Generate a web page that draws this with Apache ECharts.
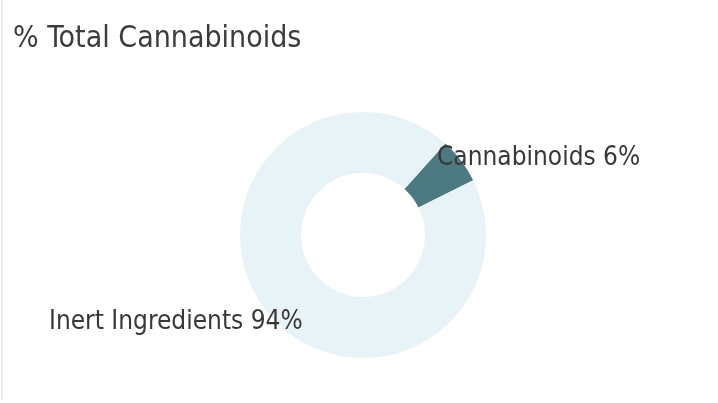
<!DOCTYPE html>
<html><head><meta charset="utf-8">
<script src="https://cdn.jsdelivr.net/npm/echarts@6/dist/echarts.min.js"></script>
<style>html,body{margin:0;padding:0;background:#fff}#c{width:718px;height:403px}</style>
</head><body><div id="c"></div>
<script>
var titleText = '% Total Cannabinoids';
var categories = ['Cannabinoids', 'Inert Ingredients'];
var values = [6, 94];
var colors = ['#4d7a80', '#e7f3f6'];

var chart = echarts.init(document.getElementById('c'), null, {renderer: 'canvas'});
chart.setOption({
  animation: false,
  backgroundColor: '#ffffff',
  title: {
    text: titleText, left: 8, top: 19,
    textStyle: {fontFamily: 'DejaVu Sans Condensed', fontSize: 30, fontWeight: 'normal', color: '#3c3c3c'}
  },
  graphic: [{type: 'line', shape: {x1: 2, y1: 0, x2: 2, y2: 400}, style: {stroke: '#dddddd', lineWidth: 1}}],
  series: [{
    type: 'pie',
    center: [363, 235],
    radius: [62, 123],
    startAngle: 48,
    clockwise: true,
    silent: true,
    label: {
      show: true,
      formatter: '{b} {d}%',
      fontFamily: 'DejaVu Sans Condensed',
      fontSize: 26,
      color: '#383838',
      overflow: 'none',
      width: 400
    },
    labelLine: {show: false},
    labelLayout: function (p) {
      return p.dataIndex === 0
        ? {x: 437, y: 158, align: 'left', verticalAlign: 'middle'}
        : {x: 49, y: 322, align: 'left', verticalAlign: 'middle'};
    },
    data: categories.map(function (n, i) {
      return {name: n, value: values[i], itemStyle: {color: colors[i]}};
    })
  }]
});
</script></body></html>
